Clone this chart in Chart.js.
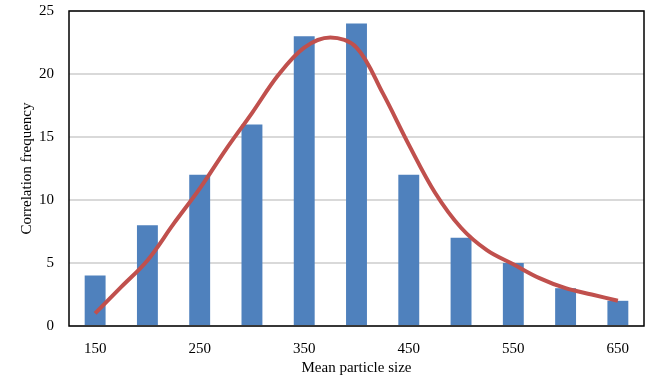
<!DOCTYPE html>
<html>
<head>
<meta charset="utf-8">
<script src="https://cdn.jsdelivr.net/npm/chart.js@4/dist/chart.umd.min.js"></script>
<style>
  html, body { margin: 0; padding: 0; background: #fff; }
  #wrap { width: 658px; height: 380px; }
</style>
</head>
<body>
<div id="wrap"><canvas id="myChart" width="658" height="380"></canvas></div>
<script>
// histogram bars
const sizes = [150, 200, 250, 300, 350, 400, 450, 500, 550, 600, 650];
const frequency = [4, 8, 12, 16, 23, 24, 12, 7, 5, 3, 2];

const curveSizes = [150, 175, 200, 225, 250, 275, 300, 325, 350, 375, 400,
                    425, 450, 475, 500, 525, 550, 575, 600, 625, 650];
const curveValues = [1.0, 3.1, 5.2, 8.1, 10.9, 14.0, 16.9, 19.9, 22.1, 22.9, 22.1,
                     18.5, 14.4, 10.6, 7.8, 6.0, 4.9, 3.8, 3.0, 2.5, 2.0];

const xTicks = [150, 250, 350, 450, 550, 650];
const yTicks = [0, 5, 10, 15, 20, 25];

const serif = "'Liberation Serif', 'Times New Roman', serif";

// black frame round the plot area
const frame = {
    id: 'frame',
    afterDatasetsDraw(chart) {
        const a = chart.chartArea;
        const ctx = chart.ctx;
        ctx.save();
        ctx.strokeStyle = '#000';
        ctx.lineWidth = 1.5;
        ctx.strokeRect(a.left, a.top, a.right - a.left, a.bottom - a.top);
        ctx.restore();
    }
};

function renderGrafica() {
    const data = {
        datasets: [{
            type: 'line',
            label: 'Fit',
            data: curveSizes.map((s, i) => ({ x: s, y: curveValues[i] })),
            borderColor: '#c0504d',
            borderWidth: 4,
            pointRadius: 0,
            tension: 0.35,
            fill: false,
            order: 0
        }, {
            type: 'bar',
            label: 'Frequency',
            data: sizes.map((s, i) => ({ x: s, y: frequency[i] })),
            backgroundColor: '#4f81bd',
            barPercentage: 0.4,
            categoryPercentage: 1,
            order: 1
        }]
    };

    const config = {
        data,
        options: {
            responsive: false,
            animation: false,
            layout: { padding: { top: 11, right: 14, left: 0, bottom: 0 } },
            plugins: { legend: { display: false }, tooltip: { enabled: false } },
            scales: {
                x: {
                    type: 'linear',
                    min: 125,
                    max: 675,
                    offset: false,
                    grid: { display: false, drawTicks: false, offset: false },
                    border: { display: false },
                    afterBuildTicks(scale) { scale.ticks = xTicks.map(v => ({ value: v })); },
                    ticks: {
                        autoSkip: false,
                        maxRotation: 0,
                        padding: 14,
                        color: '#000',
                        font: { family: serif, size: 15 },
                        callback: v => String(v)
                    },
                    title: {
                        display: true,
                        text: 'Mean particle size',
                        color: '#000',
                        font: { family: serif, size: 15 },
                        padding: { top: 0, bottom: 3 }
                    },
                    afterFit(scale) { scale.height = 54; }
                },
                y: {
                    min: 0,
                    max: 25,
                    grid: { color: '#d9d9d9', lineWidth: 2, drawTicks: true, tickLength: 15, tickColor: 'rgba(0,0,0,0)' },
                    border: { display: false },
                    afterBuildTicks(scale) { scale.ticks = yTicks.map(v => ({ value: v })); },
                    ticks: {
                        padding: 0,
                        color: '#000',
                        font: { family: serif, size: 15 }
                    },
                    title: {
                        display: true,
                        text: 'Correlation frequency',
                        color: '#000',
                        font: { family: serif, size: 15 },
                        padding: { top: 18, bottom: 0 }
                    },
                    afterFit(scale) { scale.width = 69; }
                }
            }
        },
        plugins: [frame]
    };

    new Chart(document.getElementById('myChart'), config);
}

renderGrafica();
</script>
</body>
</html>
